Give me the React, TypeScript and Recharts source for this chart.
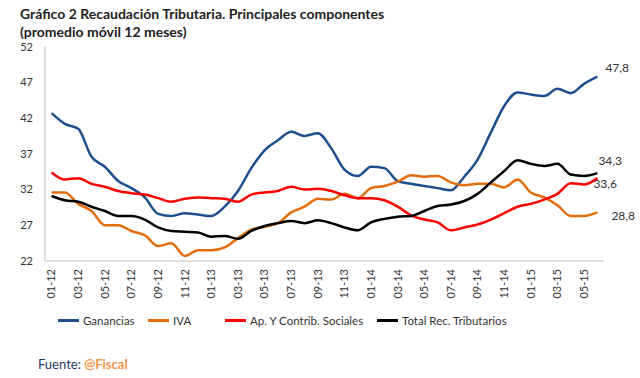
import React from 'react';
import { LineChart, Line, XAxis, YAxis, Legend, LabelList } from 'recharts';

const months = [
  '01-12', '02-12', '03-12', '04-12', '05-12', '06-12', '07-12', '08-12', '09-12', '10-12', '11-12', '12-12',
  '01-13', '02-13', '03-13', '04-13', '05-13', '06-13', '07-13', '08-13', '09-13', '10-13', '11-13', '12-13',
  '01-14', '02-14', '03-14', '04-14', '05-14', '06-14', '07-14', '08-14', '09-14', '10-14', '11-14', '12-14',
  '01-15', '02-15', '03-15', '04-15', '05-15', '06-15',
];

const ganancias = [
  42.7, 41.2, 40.5, 36.6, 35.2, 33.2, 32.2, 30.9, 28.6, 28.3, 28.7, 28.5,
  28.3, 29.6, 31.8, 35.0, 37.5, 38.9, 40.1, 39.5, 39.9, 37.8, 34.8, 33.9,
  35.2, 35.0, 33.2, 32.8, 32.5, 32.2, 31.9, 33.8, 36.2, 40.0, 43.7, 45.6,
  45.3, 45.1, 46.1, 45.5, 46.8, 47.8,
];

const iva = [
  31.6, 31.6, 30.0, 29.0, 27.0, 27.0, 26.2, 25.6, 24.1, 24.5, 22.7, 23.5,
  23.5, 23.9, 25.2, 26.4, 26.8, 27.3, 28.8, 29.6, 30.7, 30.6, 31.4, 30.8,
  32.2, 32.5, 33.1, 34.0, 33.8, 33.9, 33.0, 32.6, 32.8, 32.8, 32.3, 33.4,
  31.6, 30.9, 29.8, 28.3, 28.3, 28.8,
];

const aportes = [
  34.4, 33.4, 33.6, 32.8, 32.4, 31.8, 31.5, 31.3, 30.8, 30.3, 30.7, 30.9,
  30.8, 30.7, 30.3, 31.3, 31.6, 31.8, 32.4, 32.0, 32.1, 31.8, 31.2, 30.8,
  30.8, 30.5, 29.6, 28.4, 27.8, 27.4, 26.3, 26.7, 27.1, 27.8, 28.7, 29.6,
  30.0, 30.6, 31.4, 32.9, 32.7, 33.6,
];

const total = [
  31.1, 30.5, 30.3, 29.6, 29.0, 28.3, 28.3, 27.8, 26.7, 26.2, 26.1, 26.0,
  25.4, 25.5, 25.1, 26.2, 26.9, 27.3, 27.6, 27.3, 27.7, 27.3, 26.7, 26.3,
  27.4, 27.9, 28.2, 28.3, 29.0, 29.7, 29.9, 30.4, 31.4, 33.0, 34.6, 36.1,
  35.6, 35.3, 35.6, 34.1, 33.9, 34.3,
];

const yTicks = [22, 27, 32, 37, 42, 47, 52];

const data = months.map((m, i) => ({
  mes: m,
  ganancias: ganancias[i],
  iva: iva[i],
  aportes: aportes[i],
  total: total[i],
}));

// label offsets and legend item widths are styling, not data
const series = [
  { key: 'ganancias', name: 'Ganancias', color: '#1F4E8C', dx: 8, dy: -9, w: 90 },
  { key: 'iva', name: 'IVA', color: '#E46C0A', dx: 14, dy: 3, w: 77 },
  { key: 'aportes', name: 'Ap. Y Contrib. Sociales', color: '#FF0000', dx: -4, dy: 6, w: 152 },
  { key: 'total', name: 'Total Rec. Tributarios', color: '#000000', dx: 1, dy: -12, w: 160 },
];

const font = 'Lato, "Open Sans", sans-serif';

const MonthTick = (props: any) => {
  const { x, y, payload } = props;
  return (
    <g transform={`translate(${x},${y})`}>
      <text transform="rotate(-90)" x={-2} dy="0.35em" textAnchor="end" fontSize={11} fill="#333" fontFamily={font}>
        {payload.value}
      </text>
    </g>
  );
};

const endLabel = (dx: number, dy: number) => (props: any) => {
  const { x, y, value, index } = props;
  if (index !== months.length - 1) return null;
  return (
    <text x={x + dx} y={y + dy} dy="0.35em" fontSize={12} fill="#333" fontFamily={font}>
      {String(value).replace('.', ',')}
    </text>
  );
};

const LegendRow = () => (
  <div style={{ display: 'flex', paddingLeft: 58, fontFamily: font, fontSize: 11.5, color: '#333', whiteSpace: 'nowrap' }}>
    {series.map((s) => (
      <div key={s.key} style={{ display: 'flex', alignItems: 'center', width: s.w, flexShrink: 0 }}>
        <div style={{ width: 21, height: 2.5, background: s.color, marginRight: 4, flexShrink: 0 }} />
        <span>{s.name}</span>
      </div>
    ))}
  </div>
);

export default function App() {
  return (
    <div style={{ position: 'fixed', left: 0, top: 0, width: 640, height: 378, background: '#fff', fontFamily: font }}>
      <div style={{ position: 'absolute', left: 20, top: 5, fontSize: 14, fontWeight: 700, color: '#222', lineHeight: '18px' }}>
        Gráfico 2 Recaudación Tributaria. Principales componentes
        <br />
        (promedio móvil 12 meses)
      </div>
      <LineChart width={640} height={378} data={data} margin={{ top: 46.7, right: 36, left: 8, bottom: 67 }}>
        <XAxis
          dataKey="mes"
          interval={1}
          tick={<MonthTick />}
          tickLine={false}
          tickSize={4}
          height={50}
          padding={{ left: 6.6, right: 6.6 }}
          axisLine={{ stroke: '#BFBFBF' }}
        />
        <YAxis
          domain={[22, 52]}
          ticks={yTicks}
          width={37}
          tickLine={false}
          tickSize={0}
          tickMargin={12}
          axisLine={{ stroke: '#BFBFBF' }}
          tick={{ fontSize: 11, fill: '#333', fontFamily: font }}
          interval={0}
        />
        <Legend
          layout="horizontal"
          verticalAlign="middle"
          align="center"
          wrapperStyle={{ top: 314, left: 0, width: 640 }}
          content={<LegendRow />}
        />
        {series.map((s) => (
          <Line
            key={s.key}
            type="monotone"
            dataKey={s.key}
            name={s.name}
            stroke={s.color}
            strokeWidth={2.5}
            dot={false}
            isAnimationActive={false}
          >
            <LabelList dataKey={s.key} content={endLabel(s.dx, s.dy)} />
          </Line>
        ))}
      </LineChart>
      <div style={{ position: 'absolute', left: 38, top: 356, fontSize: 13 }}>
        <span style={{ color: '#1F3864' }}>Fuente: </span>
        <span style={{ color: '#F79646', fontWeight: 700 }}>@Fiscal</span>
      </div>
    </div>
  );
}
